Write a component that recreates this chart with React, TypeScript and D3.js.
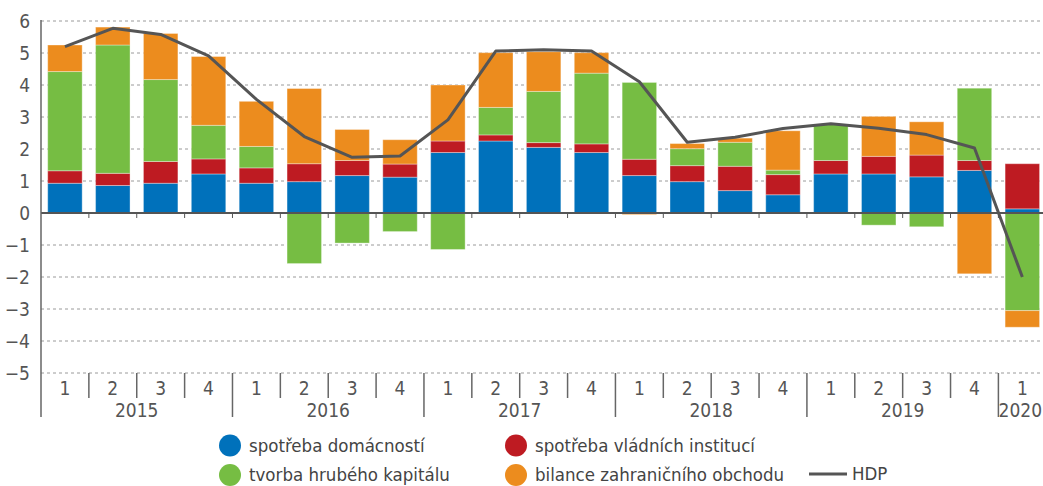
import React from 'react';
import * as d3 from 'd3';

// chart data (percentage points contribution to GDP growth)
const years = ['2015', '2016', '2017', '2018', '2019', '2020'];
const quartersPerYear = [4, 4, 4, 4, 4, 1];

const household = [0.93, 0.86, 0.93, 1.22, 0.93, 0.98, 1.17, 1.12, 1.89, 2.25, 2.05, 1.89, 1.17, 0.98, 0.70, 0.57, 1.22, 1.22, 1.13, 1.33, 0.13];
const government = [0.39, 0.38, 0.68, 0.47, 0.48, 0.56, 0.47, 0.41, 0.36, 0.19, 0.15, 0.27, 0.51, 0.50, 0.76, 0.63, 0.42, 0.55, 0.68, 0.31, 1.41];
const capital = [3.10, 4.01, 2.56, 1.05, 0.67, -1.58, -0.94, -0.58, -1.14, 0.86, 1.60, 2.21, 2.40, 0.53, 0.75, 0.14, 1.13, -0.38, -0.43, 2.26, -3.05];
const tradeBalance = [0.83, 0.56, 1.44, 2.15, 1.41, 2.35, 0.97, 0.76, 1.75, 1.71, 1.24, 0.64, -0.05, 0.16, 0.13, 1.23, 0.0, 1.25, 1.04, -1.90, -0.52];
const gdp = [5.2, 5.77, 5.58, 4.91, 3.55, 2.39, 1.74, 1.78, 2.91, 5.06, 5.1, 5.06, 4.1, 2.21, 2.37, 2.64, 2.79, 2.65, 2.45, 2.03, -2.0];

const yTicks = [6, 5, 4, 3, 2, 1, 0, -1, -2, -3, -4, -5];

const seriesKeys = ['household', 'government', 'capital', 'trade'];
const seriesNames = ['spotřeba domácností', 'spotřeba vládních institucí', 'tvorba hrubého kapitálu', 'bilance zahraničního obchodu'];
const colors = ['#0071bb', '#be1b22', '#76bd43', '#ec8c1e'];

const svgWidth = 1043;
const svgHeight = 486;
const margin = { left: 41, top: 21 };
const step = 47.87;
const font = '"DejaVu Sans Condensed", "DejaVu Sans", sans-serif';

export default function App() {
    // quarter labels from years
    const quarterLabels: string[] = [];
    quartersPerYear.forEach((n) => {
        for (let q = 1; q <= n; q++) quarterLabels.push(String(q));
    });
    const n = quarterLabels.length;

    const table = quarterLabels.map((q, i) => ({
        household: household[i],
        government: government[i],
        capital: capital[i],
        trade: tradeBalance[i],
    }));

    const x = d3.scaleBand<number>()
        .domain(d3.range(n))
        .range([margin.left, margin.left + n * step])
        .paddingInner(0.28)
        .paddingOuter(0.14);
    const y = d3.scaleLinear().domain([-5, 6]).range([373, margin.top]);

    const stacked = d3.stack<any>()
        .keys(seriesKeys)
        .offset(d3.stackOffsetDiverging)(table);

    const line = d3.line<number>()
        .x((d, i) => (x(i) as number) + x.bandwidth() / 2)
        .y(d => y(d));

    const fmt = d3.format('d');
    const bottom = y(-5);

    // year groups
    let start = 0;
    const yearGroups = years.map((yr, yi) => {
        const g = { label: yr, from: start, to: start + quartersPerYear[yi] };
        start += quartersPerYear[yi];
        return g;
    });

    return (
        <svg width={svgWidth} height={svgHeight}
            style={{ position: 'absolute', left: 0, top: 0, background: '#fff' }}
            fontFamily={font}>
            {/* grid */}
            {yTicks.filter(t => t !== 0).map(t => (
                <line key={'g' + t} x1={margin.left} x2={svgWidth} y1={y(t)} y2={y(t)}
                    stroke="#9a9a9a" strokeWidth={1} strokeDasharray="3,3" />
            ))}
            {/* y labels */}
            {yTicks.map(t => (
                <text key={'t' + t} x={30} y={y(t)} dy="0.35em" textAnchor="end"
                    fontSize={19} fill="#555">{fmt(t)}</text>
            ))}
            {/* bars */}
            {stacked.map((s, si) => (
                <g key={s.key} fill={colors[si]}>
                    {s.map((d, i) => {
                        const h = Math.abs(y(d[0]) - y(d[1]));
                        if (h < 0.01) return null;
                        return (
                            <rect key={i} x={x(i)} width={x.bandwidth()}
                                y={Math.min(y(d[0]), y(d[1]))} height={h}
                                stroke="#ffffff" strokeOpacity={0.35} strokeWidth={1} />
                        );
                    })}
                </g>
            ))}
            {/* zero line */}
            <line x1={margin.left} x2={svgWidth} y1={y(0)} y2={y(0)} stroke="#555" strokeWidth={2} />
            {d3.range(1, n).map(i => (
                <line key={'zt' + i} x1={margin.left + i * step} x2={margin.left + i * step}
                    y1={y(0)} y2={y(0) + 5} stroke="#555" strokeWidth={1} />
            ))}
            {/* HDP */}
            <path d={line(gdp) || ''} fill="none" stroke="#555" strokeWidth={3} strokeLinejoin="round" />
            {/* y axis */}
            <line x1={margin.left} x2={margin.left} y1={margin.top - 1} y2={417} stroke="#666" strokeWidth={1.5} />
            {/* category axis */}
            {d3.range(1, n).map(i => {
                const isYear = yearGroups.some(g => g.from === i);
                return (
                    <line key={'qs' + i} x1={margin.left + i * step} x2={margin.left + i * step}
                        y1={bottom} y2={isYear ? 417 : 398} stroke="#666" strokeWidth={1.5} />
                );
            })}
            {quarterLabels.map((q, i) => (
                <text key={'q' + i} x={(x(i) as number) + x.bandwidth() / 2} y={395}
                    textAnchor="middle" fontSize={19} fill="#555">{q}</text>
            ))}
            {yearGroups.map(g => {
                const cx = g.to - g.from === 1
                    ? (x(g.from) as number) + x.bandwidth() / 2 - 2
                    : margin.left + ((g.from + g.to) / 2) * step;
                return (
                    <text key={g.label} x={cx} y={417} textAnchor="middle"
                        fontSize={19} fill="#555">{g.label}</text>
                );
            })}
            {/* legend */}
            {seriesNames.map((name, i) => {
                const col = i % 2;
                const row = Math.floor(i / 2);
                const lx = col === 0 ? 230 : 516;
                const ly = row === 0 ? 445.5 : 475;
                return (
                    <g key={name}>
                        <circle cx={lx} cy={ly} r={11} fill={colors[i]} />
                        <text x={lx + 19} y={ly} dy="0.35em" fontSize={18.5} fill="#444">{name}</text>
                    </g>
                );
            })}
            <line x1={809} x2={847} y1={474} y2={474} stroke="#555" strokeWidth={3} />
            <text x={852} y={474} dy="0.35em" fontSize={18.5} fill="#444">HDP</text>
        </svg>
    );
}
